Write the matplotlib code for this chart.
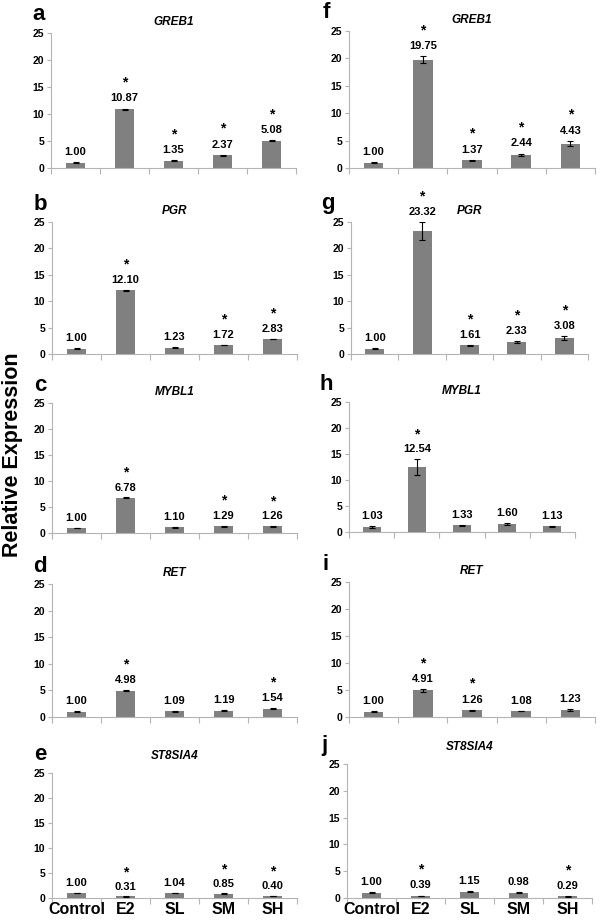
import numpy as np
import matplotlib
matplotlib.use("Agg")
from matplotlib import pyplot as plt

plt.rcParams['font.family'] = ['Liberation Sans', 'DejaVu Sans']

groups = ["Control", "E2", "SL", "SM", "SH"]

# panel letter, gene name
letters = ["a", "b", "c", "d", "e", "f", "g", "h", "i", "j"]
genes = ["GREB1", "PGR", "MYBL1", "RET", "ST8SIA4",
         "GREB1", "PGR", "MYBL1", "RET", "ST8SIA4"]

# relative expression per panel
vals_a = [1.00, 10.87, 1.35, 2.37, 5.08]
vals_b = [1.00, 12.10, 1.23, 1.72, 2.83]
vals_c = [1.00, 6.78, 1.10, 1.29, 1.26]
vals_d = [1.00, 4.98, 1.09, 1.19, 1.54]
vals_e = [1.00, 0.31, 1.04, 0.85, 0.40]
vals_f = [1.00, 19.75, 1.37, 2.44, 4.43]
vals_g = [1.00, 23.32, 1.61, 2.33, 3.08]
vals_h = [1.03, 12.54, 1.33, 1.60, 1.13]
vals_i = [1.00, 4.91, 1.26, 1.08, 1.23]
vals_j = [1.00, 0.39, 1.15, 0.98, 0.29]

# error bars (estimated)
err_a = [0.05, 0.12, 0.08, 0.08, 0.10]
err_b = [0.05, 0.08, 0.08, 0.06, 0.06]
err_c = [0.05, 0.06, 0.05, 0.08, 0.08]
err_d = [0.05, 0.10, 0.06, 0.08, 0.06]
err_e = [0.06, 0.05, 0.06, 0.08, 0.08]
err_f = [0.05, 0.60, 0.08, 0.20, 0.45]
err_g = [0.06, 1.70, 0.10, 0.20, 0.40]
err_h = [0.20, 1.50, 0.10, 0.20, 0.10]
err_i = [0.05, 0.20, 0.06, 0.06, 0.20]
err_j = [0.06, 0.05, 0.08, 0.06, 0.05]

# significance (1 = star)
sig_a = [0, 1, 1, 1, 1]
sig_b = [0, 1, 0, 1, 1]
sig_c = [0, 1, 0, 1, 1]
sig_d = [0, 1, 0, 0, 1]
sig_e = [0, 1, 0, 1, 1]
sig_f = [0, 1, 1, 1, 1]
sig_g = [0, 1, 1, 1, 1]
sig_h = [0, 1, 0, 0, 0]
sig_i = [0, 1, 1, 0, 0]
sig_j = [0, 1, 0, 0, 1]

values = [vals_a, vals_b, vals_c, vals_d, vals_e, vals_f, vals_g, vals_h, vals_i, vals_j]
errors = [err_a, err_b, err_c, err_d, err_e, err_f, err_g, err_h, err_i, err_j]
stars = [sig_a, sig_b, sig_c, sig_d, sig_e, sig_f, sig_g, sig_h, sig_i, sig_j]

W, H = 600, 924
# axes boxes in pixels: left, top, right, bottom
boxes = [(51, 33, 296, 168), (52, 222, 297, 354), (52, 403, 297, 533),
         (52, 584, 297, 717), (52, 773, 297, 898),
         (349, 31, 595, 168), (351, 222, 588, 354), (349, 402, 575, 532),
         (349, 582, 595, 717), (347, 764, 592, 898)]

fig = plt.figure(figsize=(W / 100, H / 100), dpi=100)
grey = "#b4b4b4"

for k in range(10):
    x0, y1, x1, y0 = boxes[k]
    ax = fig.add_axes([x0 / W, 1 - y0 / H, (x1 - x0) / W, (y0 - y1) / H])
    xs = np.arange(len(groups))
    v = np.array(values[k])
    e = np.array(errors[k])
    ax.bar(xs, v, width=0.4, color="#808080", zorder=2)
    ax.errorbar(xs, v, yerr=e, fmt="none", ecolor="black", elinewidth=0.8,
                capsize=2, capthick=0.8, zorder=3)
    for i in range(len(xs)):
        ly = v[i] + e[i] + 1.9
        ax.text(xs[i], ly, "%.2f" % v[i], ha="center", va="center",
                fontsize=8, fontweight="bold", clip_on=False)
        if stars[k][i]:
            ax.text(xs[i], ly + 2.9, "*", ha="center", va="center",
                    fontsize=10, fontweight="bold", clip_on=False)
    ax.set_xlim(-0.5, 4.5)
    ax.set_ylim(0, 25)
    ax.set_yticks([0, 5, 10, 15, 20, 25])
    ax.set_xticks(np.arange(-0.5, 5, 1.0))
    ax.tick_params(axis="x", length=4, color=grey, width=0.8, labelbottom=False)
    ax.tick_params(axis="y", length=3, color=grey, width=0.8, labelsize=7.5, pad=2)
    for t in ax.get_yticklabels():
        t.set_fontweight("bold")
    for s in ["top", "right"]:
        ax.spines[s].set_visible(False)
    for s in ["left", "bottom"]:
        ax.spines[s].set_color(grey)
        ax.spines[s].set_linewidth(0.8)
    ax.set_title(genes[k], fontsize=8.5, fontweight="bold", style="italic",
                 pad=10 if k in (4, 9) else 6)
    lx = x0 - 12 if k < 5 else x0 - 23
    fig.text(lx / W, 1 - (y1 - 18) / H, letters[k], fontsize=16,
             fontweight="bold", ha="center", va="center")
    if k in (4, 9):
        for i, g in enumerate(groups):
            ax.annotate(g, (xs[i], 0), xytext=(0, -3), textcoords="offset points",
                        ha="center", va="top", fontsize=11.5, fontweight="bold",
                        annotation_clip=False)

fig.text(13 / W, 1 - 455 / H, "Relative Expression", rotation=90, fontsize=15.5,
         fontweight="bold", ha="center", va="center")

fig.savefig("out.png", dpi=100)
